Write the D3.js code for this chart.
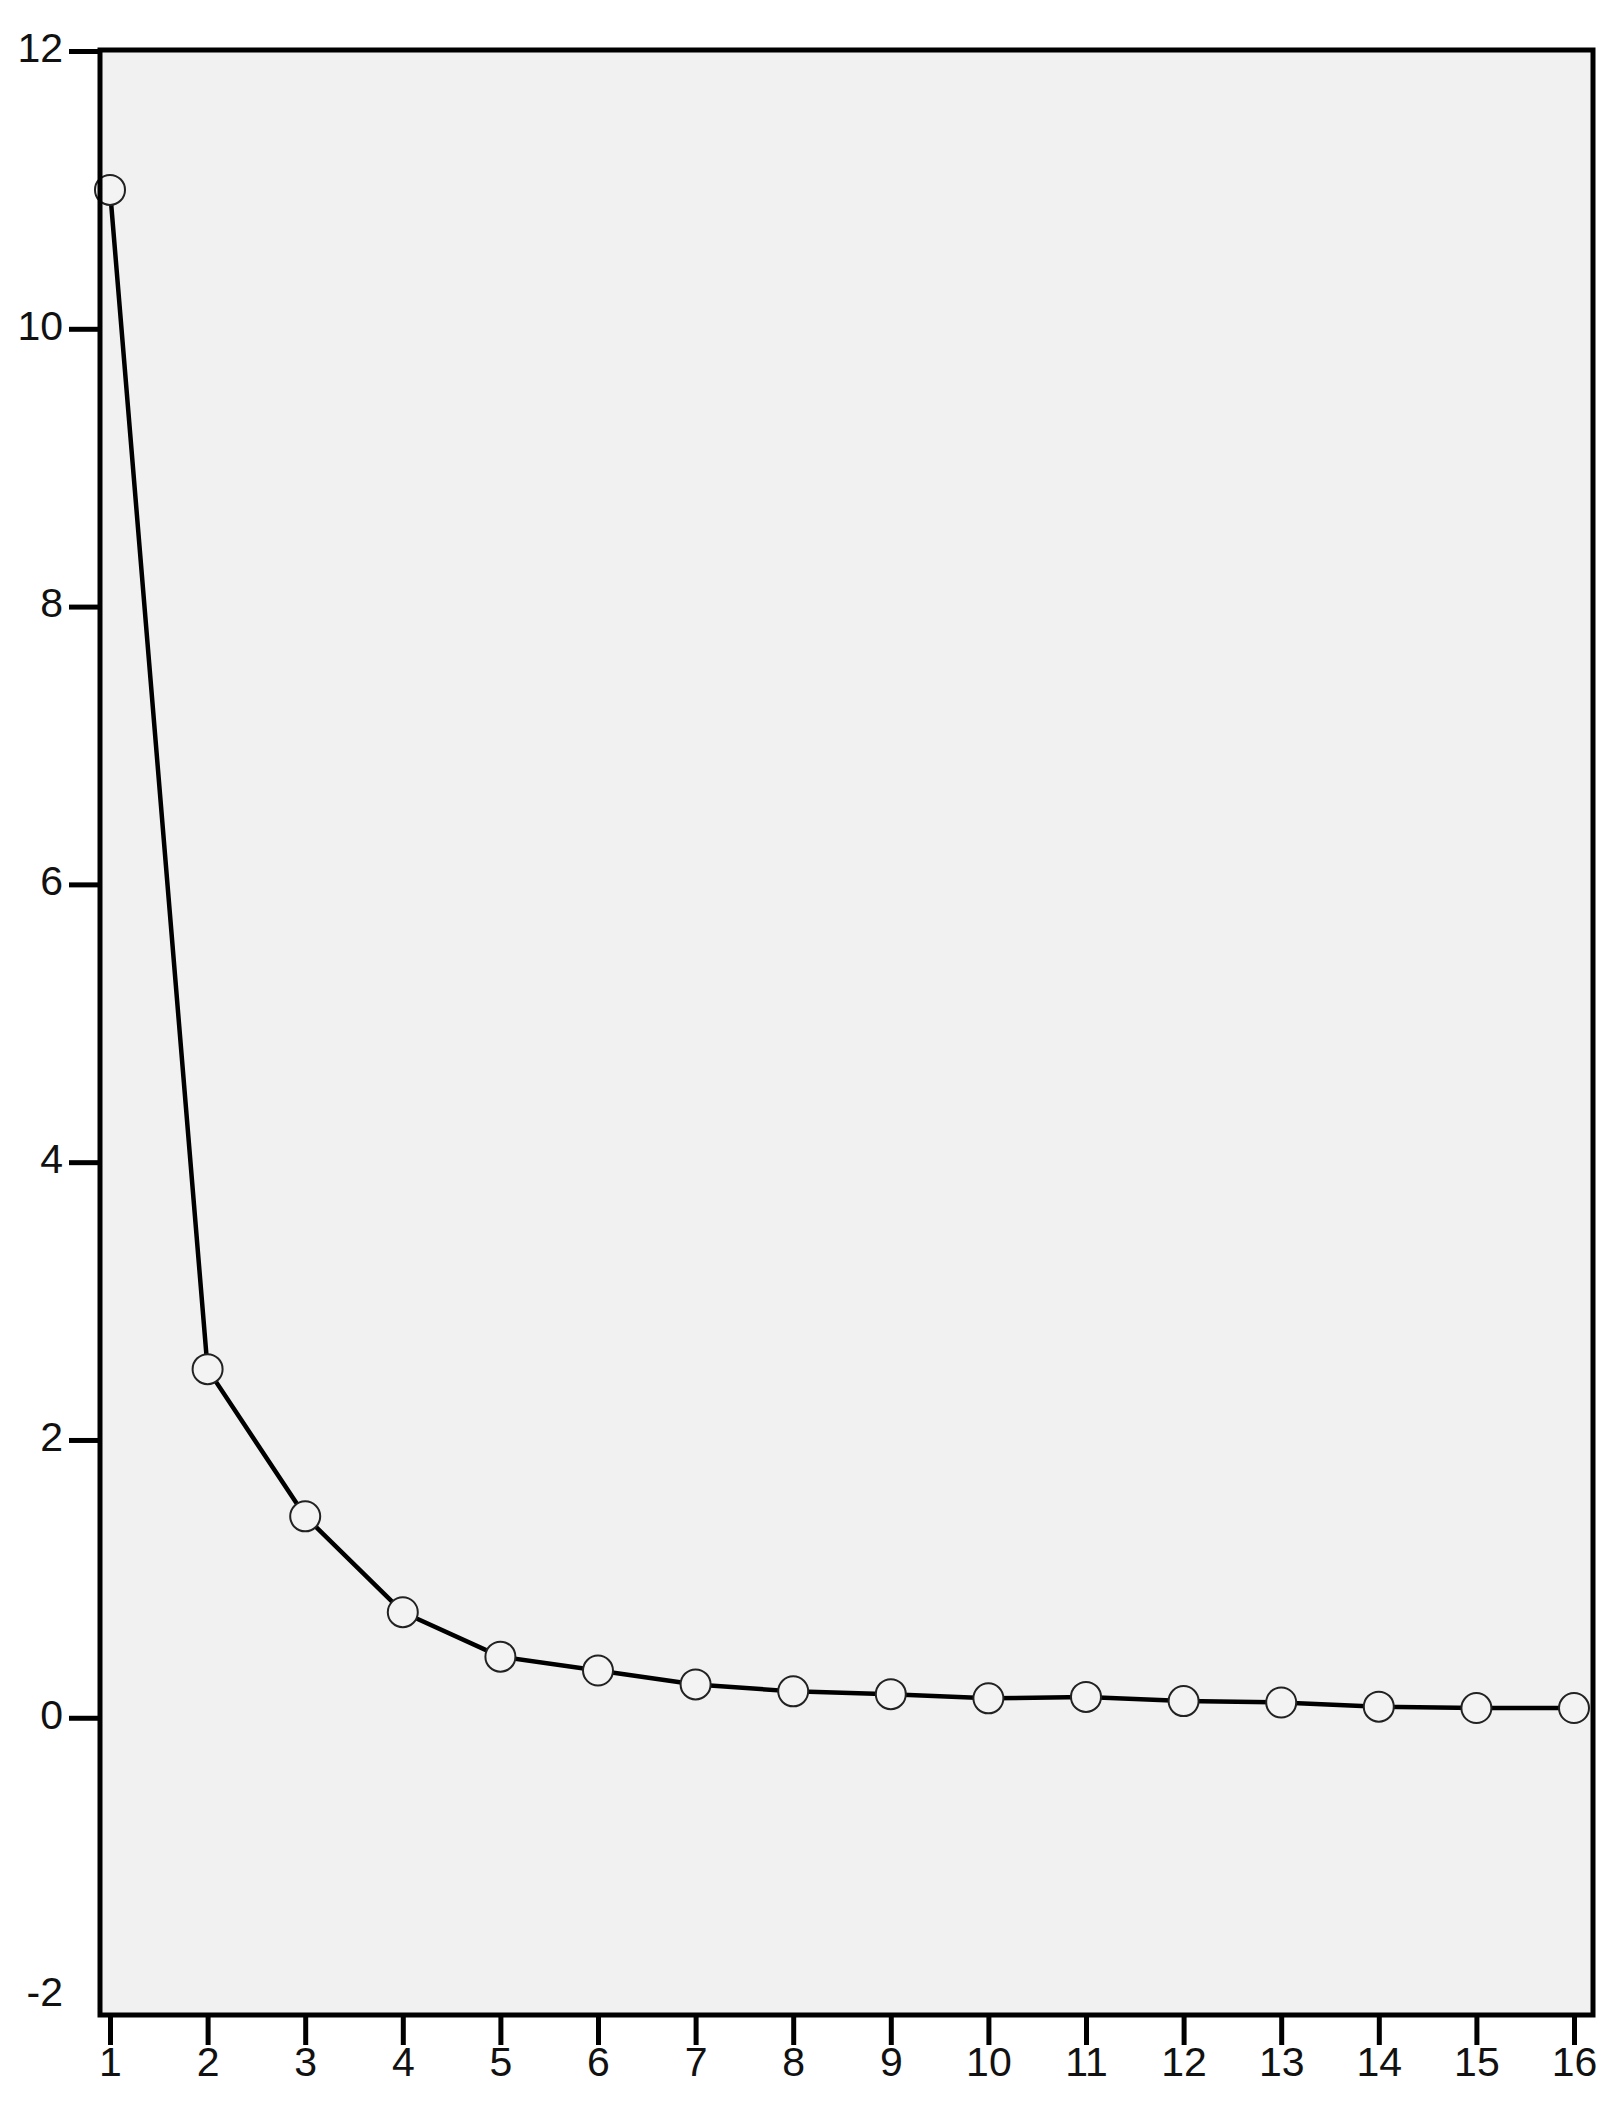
<!DOCTYPE html>
<html>
<head>
<meta charset="utf-8">
<script src="https://cdn.jsdelivr.net/npm/d3@7"></script>
<style>
  body { margin: 0; background: #fff; }
  text { font-family: "Liberation Sans", Arial, sans-serif; }
</style>
</head>
<body>
<div id="scree"></div>
<script>
"use strict"

// data
const components = [1, 2, 3, 4, 5, 6, 7, 8, 9, 10, 11, 12, 13, 14, 15, 16];
const eigenvalues = [11.0, 2.51, 1.45, 0.76, 0.44, 0.34, 0.24, 0.19, 0.17, 0.14, 0.15, 0.12, 0.11, 0.08, 0.07, 0.07];
const yTicks = [-2, 0, 2, 4, 6, 8, 10, 12];

// set the dimensions and margins of the graph
const W = 1624, H = 2117;
const frame = {left: 100, top: 50, right: 1593, bottom: 2015};

const svg = d3.select("#scree")
.append("svg")
  .attr("width", W)
  .attr("height", H);

// scales
const x = d3.scaleLinear()
  .domain([1, 16])
  .range([110, 1574]);

const y = d3.scaleLinear()
  .domain([-2.14, 12])
  .range([frame.bottom, frame.top + 1]);

// plot background
svg.append("rect")
  .attr("x", frame.left)
  .attr("y", frame.top)
  .attr("width", frame.right - frame.left)
  .attr("height", frame.bottom - frame.top)
  .style("fill", "#f1f1f1");

// the line
const line = d3.line()
  .x(function(d, i) { return x(components[i]) })
  .y(function(d) { return y(d) });

svg.append("path")
  .datum(eigenvalues)
  .attr("d", line)
  .style("fill", "none")
  .style("stroke", "#000")
  .style("stroke-width", 4.5)
  .style("stroke-linejoin", "round");

// the points
svg.selectAll(".pt")
  .data(eigenvalues)
  .enter()
  .append("circle")
    .attr("class", "pt")
    .attr("cx", function(d, i) { return x(components[i]) })
    .attr("cy", function(d) { return y(d) })
    .attr("r", 15)
    .style("fill", "#f3f3f3")
    .style("stroke", "#222")
    .style("stroke-width", 2);

// frame on top
svg.append("rect")
  .attr("x", frame.left)
  .attr("y", frame.top)
  .attr("width", frame.right - frame.left)
  .attr("height", frame.bottom - frame.top)
  .style("fill", "none")
  .style("stroke", "#000")
  .style("stroke-width", 5);

// Y axis
const yAxis = svg.append("g")
  .attr("transform", "translate(" + frame.left + ",0)")
  .call(d3.axisLeft(y).tickValues(yTicks).tickSize(31).tickPadding(6).tickFormat(String));

// X axis
const xAxis = svg.append("g")
  .attr("transform", "translate(0," + frame.bottom + ")")
  .call(d3.axisBottom(x).tickValues(components).tickSize(30).tickPadding(2).tickFormat(String));

[yAxis, xAxis].forEach(function(g) {
  g.select(".domain").remove();
  g.selectAll(".tick line").style("stroke", "#000").style("stroke-width", 5);
  g.selectAll(".tick text")
    .style("font-size", "41px")
    .style("fill", "#111");
});

yAxis.selectAll(".tick text").attr("dy", "0.25em");
// no tick mark at -2 in the original
yAxis.selectAll(".tick").filter(function(d) { return d === -2 }).select("line").remove();
</script>
</body>
</html>
